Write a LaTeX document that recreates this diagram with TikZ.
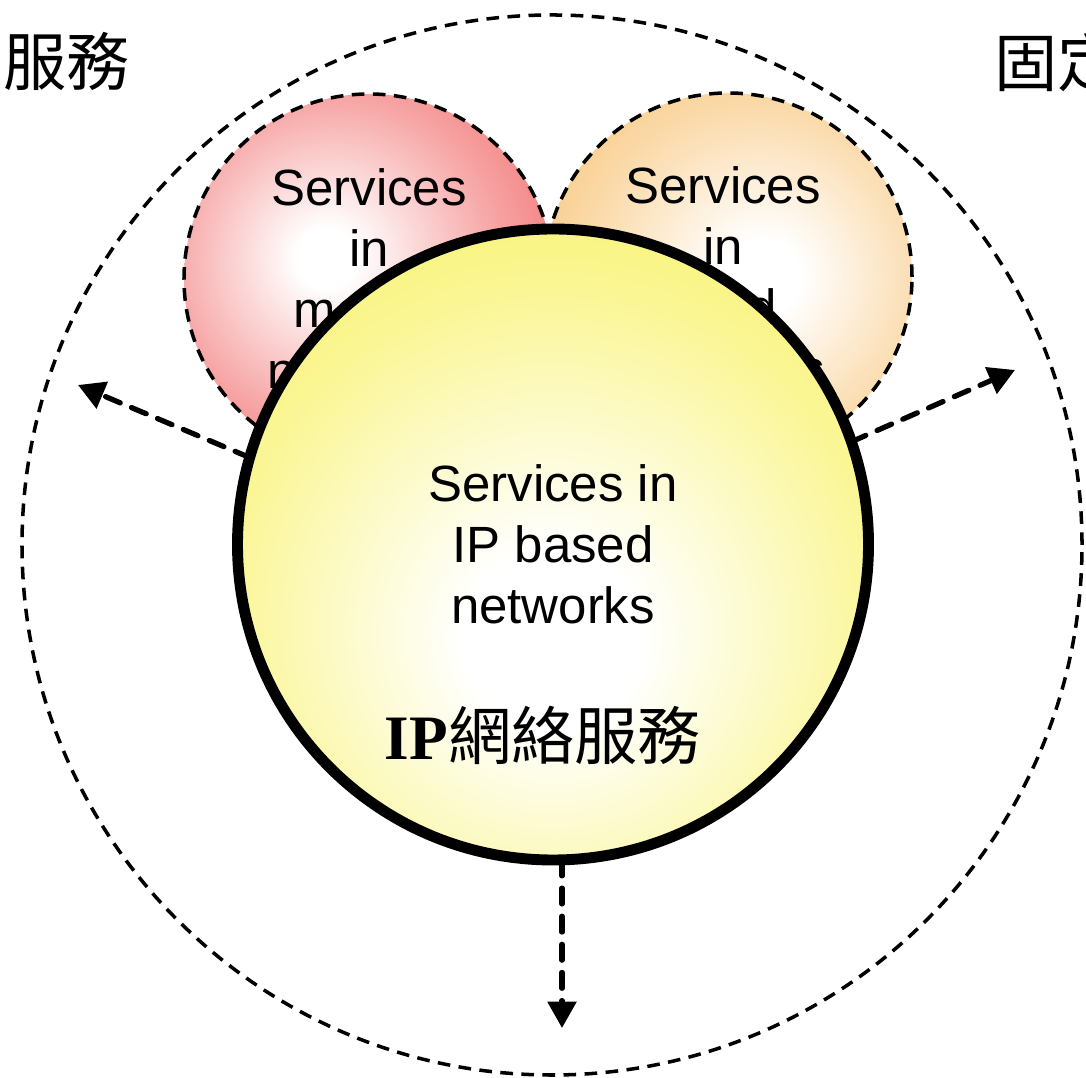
\documentclass[tikz,border=0pt]{standalone}
\usepackage{fontspec}
\setmainfont{Liberation Sans}
\newfontfamily\cjkfont{Noto Sans CJK TC}
\newfontfamily\timesfont{Liberation Serif}
\usetikzlibrary{arrows.meta}
\definecolor{mobred}{RGB}{240,92,92}
\definecolor{fixorange}{RGB}{247,192,110}
\definecolor{ipyellow}{RGB}{247,240,80}
\pgfdeclareradialshading{mobshade}{\pgfpoint{-6bp}{3bp}}{color(0bp)=(white); color(4bp)=(white); color(22bp)=(mobred!55); color(38bp)=(mobred!95); color(100bp)=(mobred!95)}
\pgfdeclareradialshading{fixshade}{\pgfpoint{5bp}{0bp}}{color(0bp)=(white); color(5bp)=(white); color(22bp)=(fixorange!55); color(38bp)=(fixorange); color(100bp)=(fixorange)}
\pgfdeclareradialshading{ipshade}{\pgfpoint{0bp}{-8bp}}{color(0bp)=(white); color(7bp)=(white); color(26bp)=(ipyellow!60); color(40bp)=(ipyellow!95); color(100bp)=(ipyellow!95)}

\begin{document}
\begin{tikzpicture}[
	svcball/.style={circle, draw, inner sep=0pt, outer sep=0pt, align=center,
		font=\fontsize{14.5}{17.4}\selectfont},
	dasharrow/.style={line width=1.5pt, dash pattern=on 4.5pt off 3.5pt, line cap=round,
		-{Triangle[width=8pt,length=7.5pt]}}
	]
	\useasboundingbox (0,0) rectangle (10.86,10.77);
	\clip (0,0) rectangle (10.86,10.77);
	%
	\node (v0) [circle, draw, dash pattern=on 3.6pt off 2.4pt, line width=1pt, minimum size=10.6cm, inner sep=0pt] at (5.52,5.32) {};
	\node (v1) [svcball, dash pattern=on 3.6pt off 2.4pt, line width=1pt, minimum size=3.7cm, shading=mobshade] at (3.69,7.98) {Services\\in\\mobile\\networks};
	\node (v2) [svcball, dash pattern=on 3.6pt off 2.4pt, line width=1pt, minimum size=3.68cm, shading=fixshade] at (7.28,8.0) {};
	\node (v2t) [align=center, font=\fontsize{14.5}{17.4}\selectfont] at (7.23,8.0) {Services\\in\\fixed\\networks};
	\node (v3) [svcball, line width=3.1pt, minimum size=6.31cm, shading=ipshade] at (5.53,5.325) {Services in\\IP based\\networks};
	\node (v4) at (5.43,3.42) {\fontsize{18}{20}\selectfont\timesfont\bfseries IP\cjkfont\mdseries 網絡服務};
	%
	\node (v5) [anchor=east] at (1.42,10.15) {\fontsize{18}{20}\selectfont\cjkfont 行動服務};
	\node (v6) [anchor=west] at (9.82,10.15) {\fontsize{18}{20}\selectfont\cjkfont 固定服務};
	%
	\coordinate (t1) at (0.78,6.92);
	\coordinate (t2) at (10.15,7.07);
	\coordinate (t3) at (5.62,0.49);
	\draw [dasharrow] (v3.164) -- (t1);
	\draw [dasharrow] (v3.19) -- (t2);
	\draw [dasharrow] (v3.south -| t3) -- (t3);
\end{tikzpicture}
\end{document}
